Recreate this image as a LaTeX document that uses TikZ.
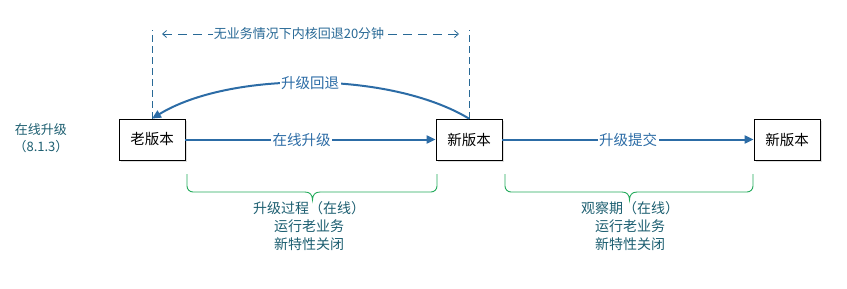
\documentclass[tikz,border=0pt]{standalone}
\usepackage{fontspec}
\setmainfont{Noto Sans CJK SC}
\usetikzlibrary{arrows.meta,shadows}
\definecolor{arrowblue}{RGB}{44,108,166}
\definecolor{textteal}{RGB}{28,94,112}
\definecolor{bracegreen}{RGB}{34,170,90}
\definecolor{dashblue}{RGB}{40,105,150}
\tikzset{
  verbox/.style={draw=black,fill=white,line width=0.8pt,minimum width=66pt,minimum height=41pt,inner sep=0pt,font=\fontsize{14.5}{16}\selectfont,drop shadow={shadow xshift=1.5pt,shadow yshift=-1.5pt,opacity=0.25}},
  flow/.style={draw=arrowblue,line width=2pt,-{Triangle[length=9pt,width=8pt]}},
  flowlabel/.style={fill=white,text=arrowblue,inner sep=1.5pt,font=\fontsize{14.5}{16}\selectfont},
  note/.style={text=textteal,align=center,font=\fontsize{14}{18}\selectfont},
  grbrace/.style={draw=bracegreen,line width=0.9pt},
  vdash/.style={draw=dashblue,line width=0.8pt,dash pattern=on 7pt off 4pt},
}
\begin{document}
\begin{tikzpicture}[x=1pt,y=-1pt]
\useasboundingbox (0,0) rectangle (847,289);
\node[verbox] (old) at (152,139.5) {老版本};
\node[verbox] (mid) at (469,139.5) {新版本};
\node[verbox] (new) at (787,139.5) {新版本};
\node[note,font=\fontsize{13}{17}\selectfont] (left) at (41,138) {在线升级\\（8.1.3）};
% forward arrows
\draw[flow] (old.east) -- node[flowlabel,pos=0.465] (l1) {在线升级} (mid.west);
\draw[flow] (mid.east) -- node[flowlabel] (l2) {升级提交} (new.west);
% rollback curve
\draw[flow] (mid.north) .. controls (390,71) and (230,71) .. node[flowlabel,pos=0.5] (l3) {升级回退} (old.north);
% dashed guides
\coordinate (d1) at (152,30);
\coordinate (d2) at (469,30);
\draw[vdash] (old.north) -- (d1);
\draw[vdash] (mid.north) -- (d2);
\coordinate (h1) at (162,34);
\coordinate (h2) at (459,34);
\draw[vdash,dash pattern=on 9pt off 6pt,{Straight Barb[length=4pt,width=7pt]}-{Straight Barb[length=4pt,width=7pt]}] (h1) -- (h2);
\node[fill=white,text=dashblue,inner sep=0.5pt,font=\fontsize{13}{14}\selectfont] (ht) at (299,34) {无业务情况下内核回退20分钟};
% braces
\draw[grbrace,rounded corners=6pt] (187,174) -- (187,192) -- (305,192);
\draw[grbrace] (305,192) .. controls (310,192) and (312.5,195) .. (312.5,200) .. controls (312.5,195) and (315,192) .. (320,192);
\draw[grbrace,rounded corners=6pt] (320,192) -- (437,192) -- (437,174);
\draw[grbrace,rounded corners=6pt] (505,174) -- (505,192) -- (622,192);
\draw[grbrace] (622,192) .. controls (627,192) and (629.5,195) .. (629.5,200) .. controls (629.5,195) and (632,192) .. (637,192);
\draw[grbrace,rounded corners=6pt] (637,192) -- (753,192) -- (753,174);
\node[note,anchor=north] (t1) at (309,198) {升级过程（在线）\\运行老业务\\新特性关闭};
\node[note,anchor=north] (t2) at (630,198) {观察期（在线）\\运行老业务\\新特性关闭};
\end{tikzpicture}
\end{document}
